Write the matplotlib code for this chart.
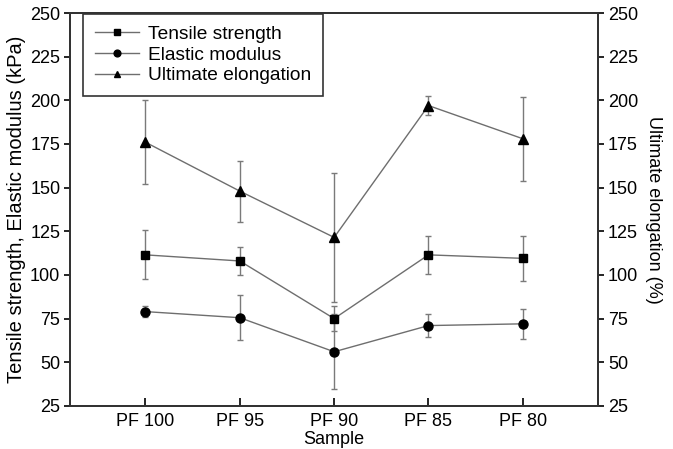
import matplotlib.pyplot as plt

samples = ["PF 100", "PF 95", "PF 90", "PF 85", "PF 80"]

tensile = [111.5, 108, 75, 111.5, 109.5]
tensile_err = [14, 8, 7, 11, 13]

modulus = [79, 75.5, 56, 71, 72]
modulus_err = [3, 13, 21.5, 6.5, 8.5]

elongation = [176, 148, 121.5, 197, 178]
elongation_err = [24, 17.5, 37, 5.5, 24]

plt.rcParams["font.family"] = ["Liberation Sans", "DejaVu Sans"]
plt.rcParams["font.size"] = 13

fig = plt.figure(figsize=(6.73, 4.49), dpi=100)
ax = fig.add_axes([0.104, 0.096, 0.785, 0.875])
x = list(range(len(samples)))

line_c = "#6e6e6e"
err_kw = dict(fmt="none", ecolor="#7a7a7a", elinewidth=1, capsize=2.5,
              capthick=1, zorder=1)

series = [
    (tensile, tensile_err, "s", 6, "Tensile strength"),
    (modulus, modulus_err, "o", 6.5, "Elastic modulus"),
    (elongation, elongation_err, "^", 6.5, "Ultimate elongation"),
]
for vals, errs, mk, ms, label in series:
    ax.errorbar(x, vals, yerr=errs, **err_kw)
    ax.plot(x, vals, color=line_c, lw=1, marker=mk, ms=ms, mfc="black",
            mec="black", label=label, zorder=3)

ax.set_xlim(-0.8, 4.8)
ax.set_ylim(25, 250)
ax.set_yticks(range(25, 251, 25))
ax.set_xticks(x)
ax.set_xticklabels(samples)
ax.set_xlabel("Sample", labelpad=1)
ax.set_ylabel("Tensile strength, Elastic modulus (kPa)", fontsize=14.5,
              labelpad=3)
ax.tick_params(axis="y", direction="out", length=4, width=1.2, pad=3)
ax.tick_params(axis="x", direction="in", length=6, width=1.2, pad=5)

ax2 = ax.twinx()
ax2.set_ylim(25, 250)
ax2.set_yticks(range(25, 251, 25))
ax2.set_ylabel("Ultimate elongation (%)", rotation=270, labelpad=17)
ax2.tick_params(axis="y", direction="out", length=4, width=1.2, pad=3)

for a in (ax, ax2):
    for s in a.spines.values():
        s.set_linewidth(1.4)
        s.set_color("#333333")

leg = ax.legend(loc="upper left", bbox_to_anchor=(0.025, 0.998),
                borderaxespad=0, frameon=True, fancybox=False, framealpha=1,
                edgecolor="#333333", borderpad=0.6, handlelength=2.3,
                labelspacing=0.18, handletextpad=0.5, markerscale=0.75,
                fontsize=13.8)
leg.get_frame().set_linewidth(1.2)

fig.savefig("out.png", dpi=100)
